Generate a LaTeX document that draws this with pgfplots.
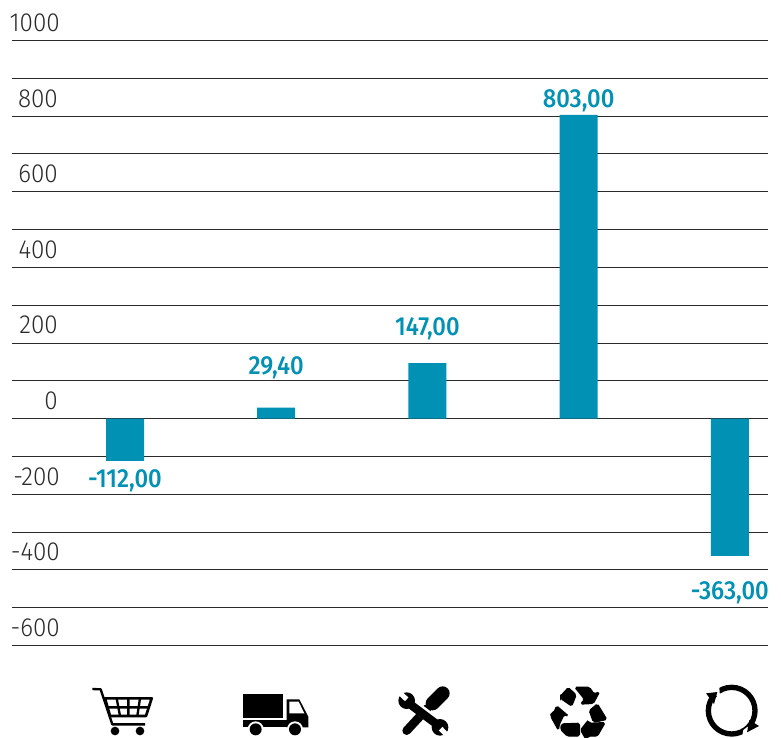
\documentclass[border=0pt]{standalone}
\usepackage{pgfplots}
\pgfplotsset{compat=1.18}
\usepackage{fontspec}
\setmainfont{Fira Sans}
\newfontfamily\tickfont[FakeStretch=0.93]{Fira Sans Light}
\newfontfamily\valfont[FakeStretch=0.91]{Fira Sans Medium}
\definecolor{barc}{HTML}{0091B5}
\definecolor{txtc}{HTML}{2A2A2A}
\newdimen\zz \zz=.25pt
\begin{document}
\begin{tikzpicture}[x=.75pt,y=-.75pt]
\path[use as bounding box] (0,0) rectangle (781,738);
\begin{axis}[
  at={(9pt,-484.125pt)}, anchor=south west,
  scale only axis, width=567pt, height=453.75pt,
  xmin=-0.7474, xmax=4.2526, ymin=-600, ymax=1000,
  axis lines=none,
  clip=false,
  ytick={-600,-500,-400,-300,-200,-100,0,100,200,300,400,500,600,700,800,900,1000},
  xtick=\empty,
]
\pgfplotsinvokeforeach{-600,-500,...,1000}{
  \addplot[txtc, line width=.75pt, forget plot] coordinates {(-0.7474,#1) (4.2526,#1)};
}
\addplot[ybar, bar width=28.5pt, fill=barc, draw=none] coordinates {
  (0,-112) (1,29.4) (2,147) (3,803) (4,-363)};
% bar value labels
\addplot[draw=none, mark=none, nodes near coords, point meta=explicit symbolic,
  every node near coord/.style={anchor=center, inner sep=0pt, text=barc, font=\valfont\fontsize{19.6pt}{20pt}\selectfont}]
  table[meta=t, col sep=space] {
  x y t
  0 -165 {-112,00}
  1 134.6 {29,40}
  2 236.7 {147,00}
  3 840 {803,00}
  4 -460 {-363,00}
  };
% tick labels
\addplot[draw=none, mark=none, nodes near coords, point meta=explicit symbolic,
  every node near coord/.style={anchor=base east, inner sep=0pt, text=txtc, font=\tickfont\fontsize{19.6pt}{20pt}\selectfont}]
  table[meta=t, col sep=space] {
  x y t
  -0.4294 1024 1000
  -0.4424 824 800
  -0.4424 624 600
  -0.4424 424 400
  -0.4424 224 200
  -0.4424 24 0
  -0.4294 -176 {-200}
  -0.4294 -376 {-400}
  -0.4294 -576 {-600}
  };
\end{axis}
% --- cart
\begin{scope}[shift={(60,670)},scale=1/3,line join=round]
\draw[line width=7\zz] (97,57)--(122,58)--(157,163)--(255,163);
\draw[line width=8\zz] (135,85)--(275,85)--(258,138)--(150,138)--cycle;
\draw[line width=7\zz] (170,85)--(180,138) (205,85)--(205,138) (240,85)--(232,138) (142,112)--(267,112);
\fill (165,183) circle (13) (240,183) circle (13);
% --- truck
\fill (550,72) rectangle (670,145);
\fill (550,150) rectangle (745,172);
\fill (680,88)--(718,88)--(745,140)--(745,172)--(680,172)--cycle;
\fill[white] (688,95)--(716,95)--(733,130)--(688,130)--cycle;
\fill[white] (587,178) circle (24) (705,178) circle (24);
\fill (587,178) circle (18) (705,178) circle (18);
\end{scope}
% --- tools
\begin{scope}[shift={(390,680)},scale=1/3]
\draw[line width=26\zz,line cap=round] (50,152)--(112,85);
\draw[line width=42\zz,line cap=round] (128,70)--(158,40);
\draw[line width=32\zz,white] (90,90)--(130,120);
\draw[line width=25\zz] (50,65)--(150,140);
\fill (50,62) circle (25) (150,142) circle (25);
\draw[line width=15\zz,white] (15,25)--(50,58);
\draw[line width=15\zz,white] (185,180)--(152,146);
\end{scope}
% --- recycle
\begin{scope}[shift={(540,680)},scale=1/3,rounded corners=1.2pt,line width=4\zz]
\filldraw (62,48)--(85,23)--(108,45)--(95,78)--(62,55)--cycle;
\filldraw (105,22)--(148,22)--(162,42)--(178,36)--(160,70)--(122,72)--(134,58)--(118,38)--cycle;
\filldraw (148,92)--(172,72)--(200,118)--(170,125)--(160,125)--cycle;
\filldraw (195,128)--(148,130)--(144,122)--(122,150)--(138,178)--(145,168)--(172,168)--cycle;
\filldraw (65,132)--(118,130)--(118,168)--(82,168)--(62,148)--cycle;
\filldraw (33,100)--(42,97)--(50,78)--(85,108)--(72,104)--(58,132)--(55,150)--(33,110)--cycle;
\end{scope}
% --- arrows
\begin{scope}[shift={(695,680)},scale=1/3]
\draw[line width=16\zz] (110,92) circle (70);
\fill[white] (57,45)--(75,50)--(72,12)--(55,12)--(50,30)--cycle;
\fill[white] (158,140)--(145,150)--(140,178)--(160,180)--(175,160)--cycle;
\fill (33,40)--(67,36)--(57,72)--cycle;
\fill (192,138)--(156,157)--(163,120)--cycle;
\end{scope}
\end{tikzpicture}
\end{document}
